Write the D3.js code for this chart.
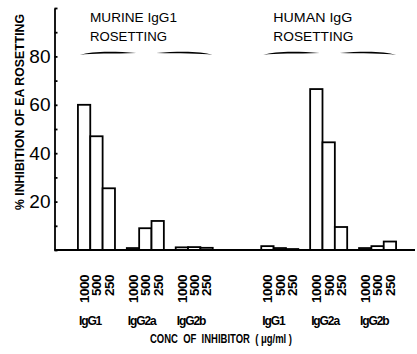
<!DOCTYPE html>
<html>
<head>
<meta charset="utf-8">
<script src="https://cdn.jsdelivr.net/npm/d3@7"></script>
<style>
  html, body { margin: 0; padding: 0; background: #fff; }
  svg { display: block; }
  text { fill: #000; }
</style>
</head>
<body>
<svg id="chart" width="417" height="354"></svg>
<script>
// Inhibition of EA rosetting by monoclonal antibodies of each subclass
const sides = ["MURINE", "HUMAN"];
const sideTitles = [["MURINE IgG1", "ROSETTING"], ["HUMAN IgG", "ROSETTING"]];
const subclasses = ["IgG1", "IgG2a", "IgG2b"];
const concentrations = ["1000", "500", "250"];

// % inhibition, per subclass, in order 1000 / 500 / 250 µg/ml
const murineValues = [
  [60, 47, 25.5],
  [0.8, 9, 12],
  [1.1, 1.2, 0.9]
];
const humanValues = [
  [1.6, 0.8, 0.4],
  [66.5, 44.5, 9.5],
  [0.8, 1.6, 3.5]
];

const yTicks = [0, 10, 20, 30, 40, 50, 60, 70, 80, 90, 100];
const yLabelled = [20, 40, 60, 80];

const yTitle = "% INHIBITION OF EA ROSETTING";
const xTitle = "CONC  OF  INHIBITOR  ( μg/ml )";

const FONT = "'Liberation Sans', Arial, Helvetica, sans-serif";

const svg = d3.select("#chart");
const axisX = 54.5, baseY = 250, topY = 8;

const y = d3.scaleLinear().domain([0, 100]).range([baseY, topY]);

const xSide = d3.scaleBand().domain(sides).range([72, 402]).paddingInner(0.2);
const xGroup = d3.scaleBand().domain(subclasses).range([0, xSide.bandwidth()]);
const xConc = d3.scaleBand().domain(concentrations)
  .range([0, xGroup.bandwidth()]).paddingInner(0).paddingOuter(0.48);

const rows = [];
[murineValues, humanValues].forEach((vals, si) => {
  subclasses.forEach((g, gi) => {
    concentrations.forEach((c, ci) => {
      rows.push({ side: sides[si], group: g, conc: c, value: vals[gi][ci] });
    });
  });
});
const barX = d => xSide(d.side) + xGroup(d.group) + xConc(d.conc);

// bars
svg.append("g").selectAll("rect").data(rows).join("rect")
  .attr("x", barX)
  .attr("width", xConc.bandwidth())
  .attr("y", d => y(d.value))
  .attr("height", d => baseY - y(d.value))
  .attr("fill", "#fff")
  .attr("stroke", "#000")
  .attr("stroke-width", 1.8);

// baseline
svg.append("line")
  .attr("x1", axisX).attr("x2", 415)
  .attr("y1", baseY).attr("y2", baseY)
  .attr("stroke", "#000").attr("stroke-width", 2.2);

// y axis
const yAxis = d3.axisLeft(y)
  .tickValues(yTicks)
  .tickSizeInner(-3)
  .tickSizeOuter(0)
  .tickPadding(4)
  .tickFormat(v => yLabelled.includes(v) ? v : "");
const ya = svg.append("g").attr("transform", `translate(${axisX},0)`).call(yAxis);
ya.select(".domain").attr("stroke", "#000").attr("stroke-width", 1.8);
ya.selectAll(".tick line").attr("stroke", "#000").attr("stroke-width", 1.8);
ya.selectAll(".tick text")
  .attr("font-family", FONT)
  .attr("font-size", 19)
  .attr("fill", "#000");

// y title
svg.append("text")
  .attr("transform", `translate(24,${(14 + 210) / 2}) rotate(-90)`)
  .attr("text-anchor", "middle")
  .attr("font-family", FONT)
  .attr("font-weight", "bold")
  .attr("font-size", 13)
  .attr("textLength", 196)
  .attr("lengthAdjust", "spacingAndGlyphs")
  .text(yTitle);

// concentration labels under each bar
svg.append("g").selectAll("text").data(rows).join("text")
  .attr("transform", d => `translate(${barX(d) + xConc.bandwidth() / 2},275) rotate(-90)`)
  .attr("text-anchor", "end")
  .attr("dy", "0.36em")
  .attr("font-family", FONT)
  .attr("font-weight", "bold")
  .attr("font-size", 13.5)
  .attr("letter-spacing", -0.5)
  .text(d => d.conc);

// subclass labels
const groupCells = [];
sides.forEach(s => subclasses.forEach(g => groupCells.push({ side: s, group: g })));
svg.append("g").selectAll("text").data(groupCells).join("text")
  .attr("x", d => xSide(d.side) + xGroup(d.group) + xConc(concentrations[0]) + 1)
  .attr("y", 325)
  .attr("font-family", FONT)
  .attr("font-weight", "bold")
  .attr("font-size", 12)
  .attr("letter-spacing", -1.1)
  .text(d => d.group);

// x title
svg.append("text")
  .attr("x", 221).attr("y", 343)
  .attr("text-anchor", "middle")
  .attr("font-family", FONT)
  .attr("font-weight", "bold")
  .attr("font-size", 13)
  .attr("textLength", 142)
  .attr("lengthAdjust", "spacingAndGlyphs")
  .style("white-space", "pre")
  .text(xTitle);

// panel headings with split braces
function braceHalf(x0, x1, yb, mirror) {
  const w = x1 - x0;
  const s = mirror ? -1 : 1;
  const a = mirror ? x1 : x0, b = mirror ? x0 : x1;
  return `M${a},${yb + 2.4} C${a + s * 0.2 * w},${yb - 1.4} ${a + s * 0.6 * w},${yb - 1.6} ${b},${yb + 0.6}` +
         ` C${a + s * 0.6 * w},${yb + 1.4} ${a + s * 0.2 * w},${yb + 0.8} ${a},${yb + 2.4} Z`;
}

const headWidths = [[87, 77], [79, 80]];
sides.forEach((s, si) => {
  const x0 = xSide(s);
  const g = svg.append("g");
  sideTitles[si].forEach((line, li) => {
    g.append("text")
      .attr("x", x0 + 18)
      .attr("y", 22 + li * 19)
      .attr("font-family", FONT)
      .attr("font-size", 13.5)
      .attr("textLength", headWidths[si][li])
      .attr("lengthAdjust", "spacingAndGlyphs")
      .text(line);
  });
  const left0 = x0 + xGroup(subclasses[0]) + xConc(concentrations[0]) + 2;
  const right1 = x0 + xGroup(subclasses[2]) + xConc(concentrations[2]) + xConc.bandwidth();
  const mid = (left0 + right1) / 2;
  g.append("path").attr("d", braceHalf(left0, mid - 10, 52.5, false)).attr("fill", "#000");
  g.append("path").attr("d", braceHalf(mid + 10, right1, 52.5, true)).attr("fill", "#000");
});
</script>
</body>
</html>
